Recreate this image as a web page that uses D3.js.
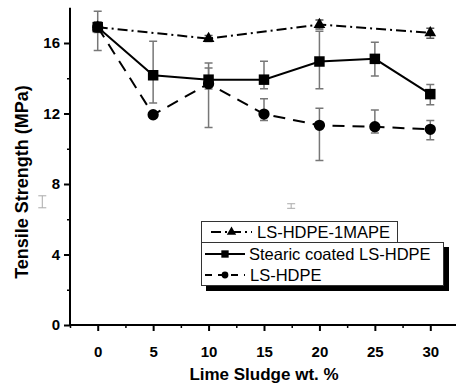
<!DOCTYPE html>
<html><head><meta charset="utf-8">
<script src="https://cdn.jsdelivr.net/npm/d3@7"></script>
<style>body{margin:0;background:#fff}svg{display:block}</style>
</head><body>
<svg id="c" width="456" height="385"></svg>
<script>
const xValues = [0, 5, 10, 15, 20, 25, 30];
const xTicks = [0, 5, 10, 15, 20, 25, 30];
const yTicks = [0, 4, 8, 12, 16];

// LS-HDPE-1MAPE (triangles, dash-dot)
const mapeX = [0, 10, 20, 30];
const mapeY = [16.9, 16.25, 17.05, 16.58];
const mapeLo = [16.75, 16.08, 16.8, 16.27];
const mapeHi = [17.05, 16.42, 17.3, 16.84];

// Stearic coated LS-HDPE (squares, solid)
const stearicY = [16.9, 14.17, 13.92, 13.92, 14.95, 15.1, 13.1];
const stearicLo = [15.58, 12.6, 13.39, 13.4, 13.4, 14.13, 12.5];
const stearicHi = [17.8, 16.1, 14.58, 14.96, 16.66, 16.04, 13.65];

// LS-HDPE (circles, dashed)
const lsY = [16.9, 11.93, 13.69, 11.97, 11.33, 11.25, 11.1];
const lsLo = [16.6, 11.75, 11.2, 11.6, 9.33, 10.9, 10.51];
const lsHi = [17.2, 12.1, 14.87, 12.84, 12.3, 12.2, 11.6];

// stray error-bar remnants visible in the picture
const strayX = [-5, 17.45];
const strayLo = [6.65, 6.62];
const strayHi = [7.33, 6.88];

const svg = d3.select('#c');
const x = d3.scaleLinear().domain([-2.5, 32.5]).range([70, 458]);
const y = d3.scaleLinear().domain([0, 18]).range([325, 7.75]);
const FONT = "'Liberation Sans', Arial, sans-serif";

// axes
const xAxis = d3.axisBottom(x).tickValues(xTicks).tickSize(6).tickSizeOuter(0).tickPadding(4);
const gx = svg.append('g').attr('transform', `translate(0,${y(0)})`).call(xAxis);
gx.selectAll('.tick text').attr('font-family', FONT).attr('font-weight', 'bold').attr('font-size', 15).attr('fill', '#000').attr('dy', '1.45em');
gx.selectAll('line,path').attr('stroke', '#000').attr('stroke-width', 2);
gx.select('.domain').attr('d', `M${x(-2.5)},0H${x(32.5)}`);
const xMinor = d3.axisBottom(x).tickValues([-2.5, 2.5, 7.5, 12.5, 17.5, 22.5, 27.5]).tickSize(3).tickFormat('');
const gxm = svg.append('g').attr('transform', `translate(0,${y(0)})`).call(xMinor);
gxm.select('.domain').remove();
gxm.selectAll('line').attr('stroke', '#000').attr('stroke-width', 1.5);

const yAxis = d3.axisLeft(y).tickValues(yTicks).tickSize(6).tickSizeOuter(0).tickPadding(4);
const gy = svg.append('g').attr('transform', `translate(${x(-2.5)},0)`).call(yAxis);
gy.selectAll('.tick text').attr('font-family', FONT).attr('font-weight', 'bold').attr('font-size', 15).attr('fill', '#000');
gy.selectAll('line,path').attr('stroke', '#000').attr('stroke-width', 2);
gy.select('.domain').attr('d', `M0,${y(0)}V${y(18)}`);
const yMinor = d3.axisLeft(y).tickValues([2, 6, 10, 14]).tickSize(3).tickFormat('');
const gym = svg.append('g').attr('transform', `translate(${x(-2.5)},0)`).call(yMinor);
gym.select('.domain').remove();
gym.selectAll('line').attr('stroke', '#000').attr('stroke-width', 1.5);

// axis titles
svg.append('text').attr('x', 264).attr('y', 380).attr('text-anchor', 'middle')
  .attr('font-family', FONT).attr('font-weight', 'bold').attr('font-size', 17).text('Lime Sludge wt. %');
svg.append('text').attr('transform', 'translate(28,182) rotate(-90)').attr('text-anchor', 'middle')
  .attr('font-family', FONT).attr('font-weight', 'bold').attr('font-size', 18).text('Tensile Strength (MPa)');

// error bars
function errBars(xs, lo, hi, color, w) {
  const g = svg.append('g').attr('stroke', color).attr('stroke-width', w).attr('fill', 'none');
  xs.forEach((xv, i) => {
    const cx = x(xv);
    g.append('path').attr('d', `M${cx},${y(lo[i])}V${y(hi[i])}M${cx-4},${y(lo[i])}H${cx+4}M${cx-4},${y(hi[i])}H${cx+4}`);
  });
}
errBars(xValues, stearicLo, stearicHi, '#777', 1.5);
errBars(xValues, lsLo, lsHi, '#777', 1.5);
errBars(mapeX, mapeLo, mapeHi, '#555', 1.5);
errBars(strayX, strayLo, strayHi, '#aaa', 1);

// lines
const line = d3.line().x(d => x(d[0])).y(d => y(d[1]));
svg.append('path').datum(mapeX.map((v, i) => [v, mapeY[i]])).attr('d', line)
  .attr('fill', 'none').attr('stroke', '#000').attr('stroke-width', 2).attr('stroke-dasharray', '10,4,2,4');
svg.append('path').datum(xValues.map((v, i) => [v, stearicY[i]])).attr('d', line)
  .attr('fill', 'none').attr('stroke', '#000').attr('stroke-width', 2);
svg.append('path').datum(xValues.map((v, i) => [v, lsY[i]])).attr('d', line)
  .attr('fill', 'none').attr('stroke', '#000').attr('stroke-width', 2).attr('stroke-dasharray', '12,8');

// markers
const tri = d3.symbol().type(d3.symbolTriangle).size(60);
const sq = d3.symbol().type(d3.symbolSquare).size(110);
const circ = d3.symbol().type(d3.symbolCircle).size(100);
svg.append('g').selectAll('path').data(mapeX).join('path')
  .attr('transform', (d, i) => `translate(${x(d)},${y(mapeY[i])})`).attr('d', tri).attr('fill', '#000');
svg.append('g').selectAll('path').data(xValues).join('path')
  .attr('transform', (d, i) => `translate(${x(d)},${y(lsY[i])})`).attr('d', circ).attr('fill', '#000');
svg.append('g').selectAll('path').data(xValues).join('path')
  .attr('transform', (d, i) => `translate(${x(d)},${y(stearicY[i])})`).attr('d', sq).attr('fill', '#000');

// legend
const leg = svg.append('g');
leg.append('rect').attr('x', 206).attr('y', 247).attr('width', 243).attr('height', 44).attr('fill', '#000');
leg.append('rect').attr('x', 201.5).attr('y', 242.5).attr('width', 242).attr('height', 43).attr('fill', '#fff').attr('stroke', '#333').attr('stroke-width', 1);
leg.append('rect').attr('x', 201.5).attr('y', 221.5).attr('width', 196).attr('height', 21).attr('fill', '#fff').attr('stroke', '#333').attr('stroke-width', 1);
const legItems = [
  {label: 'LS-HDPE-1MAPE', sym: tri, dash: '10,4,2,4', y: 232, x0: 211, x1: 252, tx: 257},
  {label: 'Stearic coated LS-HDPE', sym: sq, dash: null, y: 254, x0: 205, x1: 245, tx: 249, scale: 0.7},
  {label: 'LS-HDPE', sym: circ, dash: '7,6', y: 275, x0: 205, x1: 245, tx: 250, scale: 0.6}
];
legItems.forEach(it => {
  leg.append('line').attr('x1', it.x0).attr('x2', it.x1).attr('y1', it.y).attr('y2', it.y)
    .attr('stroke', '#000').attr('stroke-width', 2).attr('stroke-dasharray', it.dash);
  leg.append('path').attr('transform', `translate(${(it.x0 + it.x1) / 2},${it.y}) scale(${it.scale || 0.8})`).attr('d', it.sym).attr('fill', '#000');
  leg.append('text').attr('x', it.tx).attr('y', it.y + 6).attr('font-family', FONT).attr('font-size', 16.5).text(it.label);
});
</script>
</body></html>
